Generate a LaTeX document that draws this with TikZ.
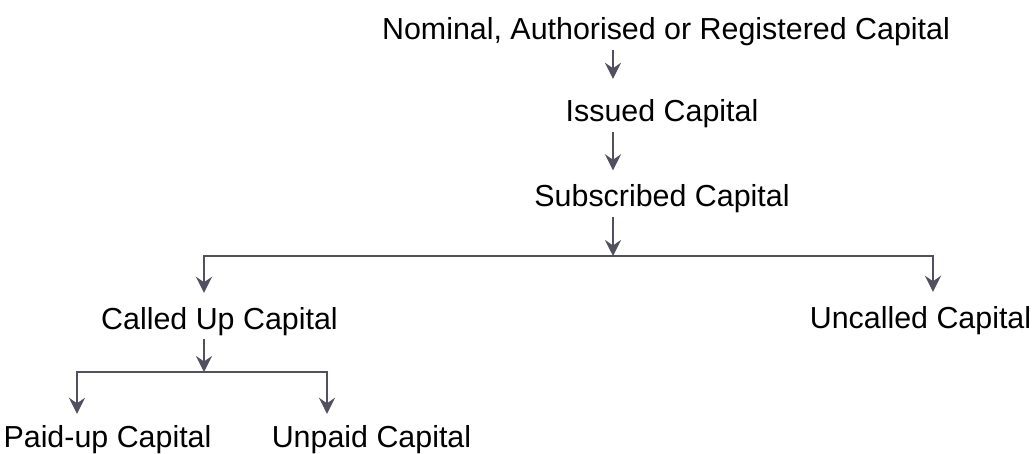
\documentclass[tikz,border=0pt]{standalone}
\usepackage{fontspec}
\setmainfont{Liberation Sans}
\usetikzlibrary{arrows.meta}
\definecolor{linegray}{RGB}{80,80,96}

\begin{document}
\begin{tikzpicture}[
  x=1pt, y=-1pt,
  lbl/.style={anchor=base, inner xsep=0pt, inner ysep=4pt, text height=32pt, text depth=6pt, font=\fontsize{30.4}{36}\selectfont},
  ln/.style={draw=linegray, line width=2.5pt, >={Stealth[length=16pt, width=16pt, inset=5.5pt]}},
  arr/.style={ln, ->}
]
  \useasboundingbox (0,0) rectangle (1033,454);

  \node[lbl] (nom) at (666,40) {Nominal, Authorised or Registered Capital};
  \node[lbl] (iss) at (662,122) {Issued Capital};
  \node[lbl] (sub) at (662,206.5) {Subscribed Capital};
  \node[lbl] (cal) at (219.5,329) {Called Up Capital};
  \node[lbl] (unc) at (920.5,328) {Uncalled Capital};
  \node[lbl] (paid) at (107.5,447) {Paid-up Capital};
  \node[lbl] (unp) at (371.5,447) {Unpaid Capital};

  % branch points
  \coordinate (trunk) at (613,0);
  \coordinate (j1) at (613,256);
  \coordinate (bl) at (204,256);
  \coordinate (br) at (933,256);
  \coordinate (j2) at (204,372);
  \coordinate (pl) at (77,372);
  \coordinate (pr) at (327,372);

  \draw[arr, shorten >=7pt] (nom.south -| trunk) -- (iss.north -| trunk);
  \draw[arr] (iss.south -| trunk) -- (sub.north -| trunk);
  \draw[arr] (sub.south -| trunk) -- (j1);
  \draw[ln, <->] (bl |- cal.north) -- (bl) -- (br) -- (br |- unc.north);
  \draw[arr] (cal.south -| j2) -- (j2);
  \draw[ln, <->, shorten <=-3pt, shorten >=-3pt] (pl |- paid.north) -- (pl) -- (pr) -- (pr |- unp.north);
\end{tikzpicture}
\end{document}
